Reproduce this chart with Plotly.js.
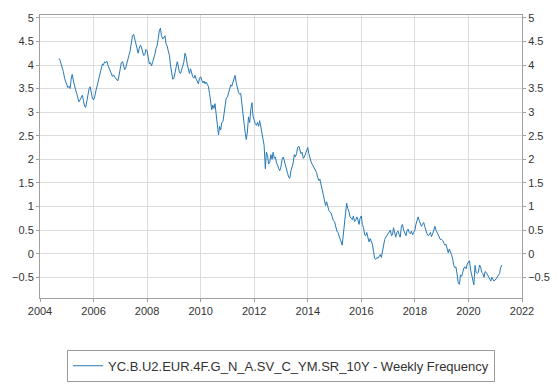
<!DOCTYPE html>
<html>
<head>
<meta charset="utf-8">
<script src="https://cdn.plot.ly/plotly-3.0.1.min.js"></script>
<style>html,body{margin:0;padding:0;background:#fff;}#chart{width:558px;height:384px;}</style>
</head>
<body>
<div id="chart"></div>
<script>
// Semi-monthly readings (1st and 15th of each month), starting 2004-09-15
const startYear = 2004;
const seriesName = "YC.B.U2.EUR.4F.G_N_A.SV_C_YM.SR_10Y - Weekly Frequency";
const v2004 = [4.14, 4.10, 4.02, 3.95, 3.86, 3.72, 3.64]; // from Sep 15
const v2005 = [3.60, 3.52, 3.55, 3.50, 3.70, 3.80, 3.66, 3.55, 3.47, 3.40, 3.30, 3.22, 3.26, 3.32, 3.36, 3.25, 3.12, 3.10, 3.25, 3.40, 3.50, 3.54, 3.42, 3.30];
const v2006 = [3.26, 3.32, 3.45, 3.52, 3.62, 3.72, 3.85, 3.96, 4.02, 4.00, 4.07, 4.05, 4.08, 4.00, 3.93, 3.88, 3.80, 3.76, 3.79, 3.74, 3.72, 3.68, 3.67, 3.78];
const v2007 = [3.92, 4.05, 4.07, 3.98, 3.90, 3.94, 4.05, 4.18, 4.22, 4.30, 4.45, 4.62, 4.65, 4.55, 4.40, 4.30, 4.25, 4.35, 4.42, 4.38, 4.28, 4.20, 4.22, 4.33];
const v2008 = [4.30, 4.12, 4.02, 4.05, 3.98, 4.05, 4.12, 4.22, 4.35, 4.40, 4.56, 4.72, 4.78, 4.62, 4.55, 4.58, 4.62, 4.45, 4.40, 4.30, 4.20, 4.00, 3.85, 3.70];
const v2009 = [3.72, 3.85, 4.00, 4.07, 3.98, 3.85, 3.82, 3.90, 3.96, 4.05, 4.25, 4.18, 4.02, 3.90, 3.82, 3.92, 3.80, 3.75, 3.72, 3.78, 3.70, 3.66, 3.60, 3.72];
const v2010 = [3.75, 3.68, 3.62, 3.66, 3.60, 3.64, 3.58, 3.55, 3.40, 3.22, 3.05, 3.15, 3.08, 3.18, 3.00, 2.75, 2.52, 2.70, 2.62, 2.78, 2.80, 2.98, 3.20, 3.30];
const v2011 = [3.32, 3.40, 3.52, 3.58, 3.55, 3.62, 3.70, 3.78, 3.62, 3.52, 3.42, 3.38, 3.40, 3.20, 2.95, 2.70, 2.55, 2.42, 2.60, 2.90, 2.78, 3.05, 3.20, 2.92];
const v2012 = [2.80, 2.76, 2.72, 2.78, 2.70, 2.82, 2.68, 2.55, 2.45, 2.30, 1.80, 2.15, 2.08, 1.90, 1.95, 2.10, 2.00, 2.15, 2.02, 2.05, 1.92, 1.88, 1.80, 1.76];
const v2013 = [1.85, 2.00, 2.05, 1.95, 1.85, 1.80, 1.70, 1.62, 1.60, 1.75, 1.84, 1.92, 2.10, 2.05, 2.12, 2.25, 2.28, 2.20, 2.12, 2.15, 2.02, 2.05, 2.12, 2.20];
const v2014 = [2.25, 2.12, 1.98, 1.95, 1.90, 1.85, 1.80, 1.75, 1.72, 1.62, 1.55, 1.58, 1.45, 1.35, 1.25, 1.12, 1.02, 1.10, 1.00, 0.92, 0.88, 0.86, 0.78, 0.70];
const v2015 = [0.68, 0.55, 0.48, 0.45, 0.40, 0.32, 0.25, 0.18, 0.45, 0.70, 0.88, 1.07, 0.95, 0.90, 0.78, 0.75, 0.72, 0.80, 0.68, 0.70, 0.78, 0.72, 0.62, 0.75];
const v2016 = [0.80, 0.62, 0.55, 0.40, 0.38, 0.45, 0.30, 0.25, 0.32, 0.28, 0.20, 0.05, -0.10, -0.12, -0.08, -0.10, -0.05, -0.02, -0.08, 0.05, 0.12, 0.30, 0.35, 0.38];
const v2017 = [0.42, 0.45, 0.50, 0.38, 0.40, 0.55, 0.42, 0.35, 0.45, 0.48, 0.40, 0.35, 0.58, 0.62, 0.50, 0.45, 0.38, 0.48, 0.52, 0.45, 0.42, 0.48, 0.40, 0.45];
const v2018 = [0.50, 0.62, 0.75, 0.78, 0.70, 0.62, 0.58, 0.62, 0.66, 0.58, 0.45, 0.42, 0.38, 0.40, 0.45, 0.36, 0.42, 0.52, 0.58, 0.50, 0.45, 0.40, 0.35, 0.30];
const v2019 = [0.30, 0.28, 0.22, 0.18, 0.20, 0.12, 0.02, 0.10, 0.05, -0.02, -0.12, -0.25, -0.30, -0.28, -0.45, -0.62, -0.65, -0.45, -0.48, -0.38, -0.30, -0.28, -0.32, -0.22];
const v2020 = [-0.18, -0.15, -0.35, -0.45, -0.55, -0.66, -0.25, -0.40, -0.42, -0.40, -0.24, -0.28, -0.40, -0.42, -0.50, -0.38, -0.40, -0.45, -0.48, -0.52, -0.58, -0.50, -0.55, -0.58];
const v2021 = [-0.56, -0.52, -0.50, -0.46, -0.42, -0.30, -0.24];

const yearly = [v2004, v2005, v2006, v2007, v2008, v2009, v2010, v2011, v2012, v2013, v2014, v2015, v2016, v2017, v2018, v2019, v2020, v2021];
const firstSlot = 17; // 2004 starts at slot 17 (Sep 15)

const dates = [], values = [];
yearly.forEach((arr, yi) => {
  const year = startYear + yi;
  const offset = yi === 0 ? firstSlot : 0;
  arr.forEach((v, i) => {
    const slot = i + offset;
    const m = Math.floor(slot / 2) + 1;
    const d = slot % 2 === 0 ? 1 : 15;
    dates.push(year + "-" + String(m).padStart(2, "0") + "-" + String(d).padStart(2, "0"));
    values.push(v);
  });
});

const yRange = [-0.94, 5.06];
const font = {family: "Liberation Sans, Arial, sans-serif", size: 11, color: "#333"};

const trace = {
  x: dates, y: values, type: "scatter", mode: "lines",
  name: seriesName, line: {color: "#2679b6", width: 1}
};
const ghost = {x: [dates[0]], y: [values[0]], yaxis: "y2", mode: "lines", showlegend: false, hoverinfo: "skip", line: {width: 0}};

const axisCommon = {
  showgrid: true, gridcolor: "#dcdcdc", gridwidth: 1,
  showline: true, linecolor: "#a0a0a0", linewidth: 1,
  ticks: "outside", ticklen: 3, tickcolor: "#a0a0a0",
  zeroline: false, tickfont: font
};

const layout = {
  width: 558, height: 384,
  margin: {l: 40, r: 36, t: 15, b: 86, autoexpand: false},
  paper_bgcolor: "#fff", plot_bgcolor: "#fff",
  font: font,
  showlegend: true,
  legend: {orientation: "h", x: 0.5, xanchor: "center", y: -0.183, yanchor: "top",
           bordercolor: "#9a9a9a", borderwidth: 1,
           font: {family: "Liberation Sans, Arial, sans-serif", size: 13, color: "#333"}},
  xaxis: Object.assign({}, axisCommon, {type: "date", range: ["2004-01-01", "2022-01-01"],
           dtick: "M24", tick0: "2004-01-01", tickformat: "%Y", mirror: true, automargin: false}),
  yaxis: Object.assign({}, axisCommon, {range: yRange, dtick: 0.5, tick0: 0, automargin: false}),
  yaxis2: Object.assign({}, axisCommon, {range: yRange, dtick: 0.5, tick0: 0, overlaying: "y", side: "right", showgrid: false, automargin: false})
};

Plotly.newPlot("chart", [trace, ghost], layout, {displayModeBar: false, staticPlot: true});
</script>
</body>
</html>
